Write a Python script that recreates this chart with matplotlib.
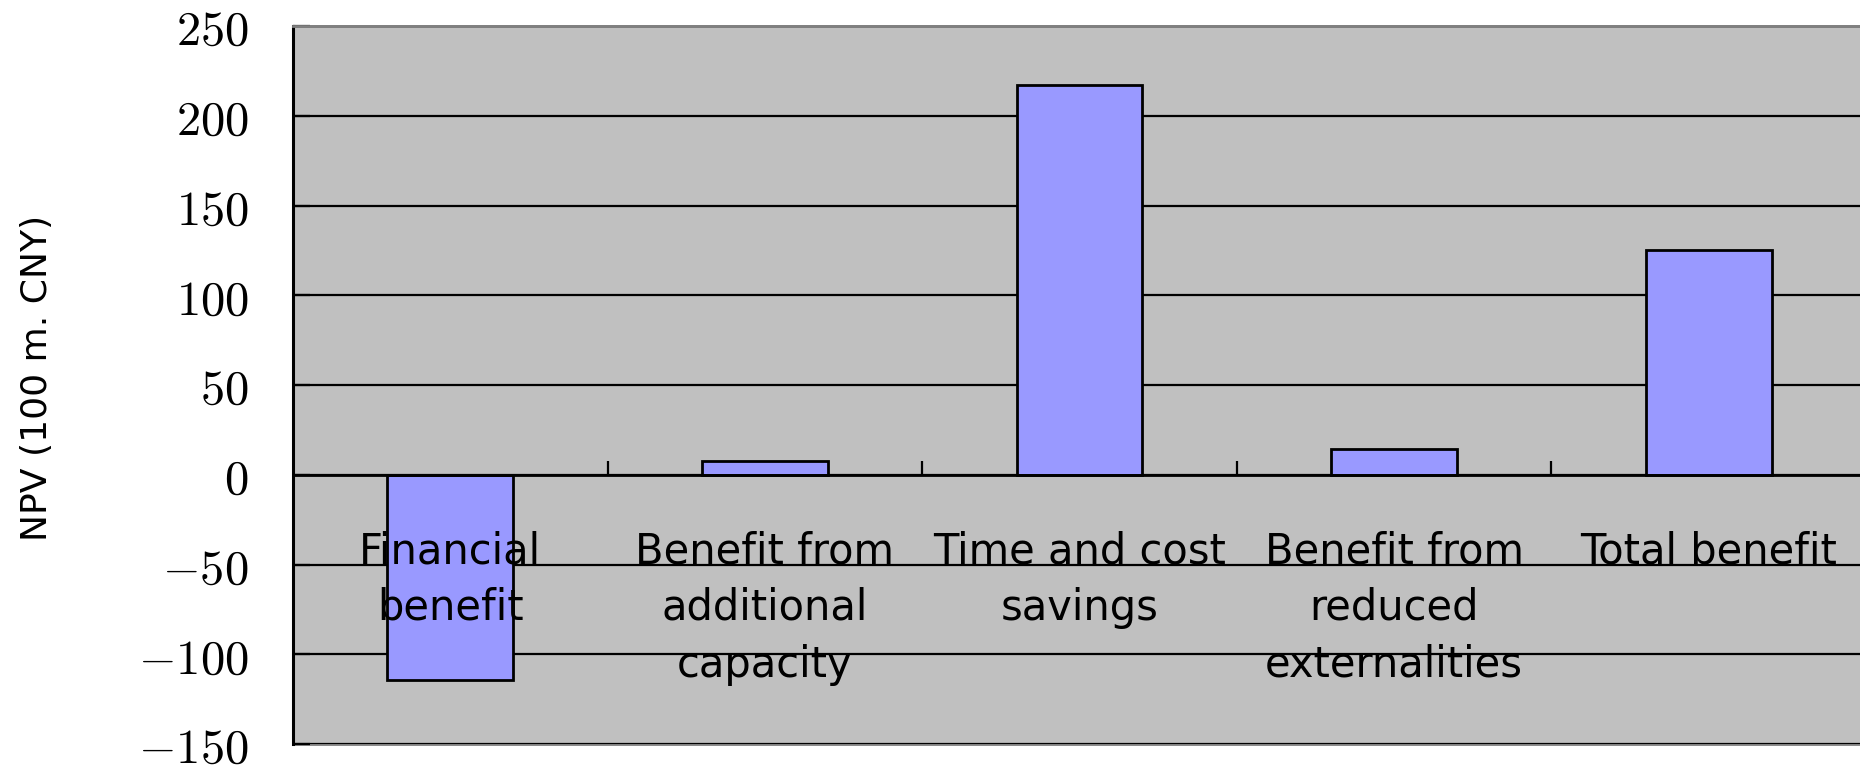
import matplotlib
matplotlib.use("Agg")
import matplotlib.pyplot as plt
from matplotlib.ticker import FixedLocator

# NPV by benefit component (100 million CNY)
categories = [
    "Financial\nbenefit",
    "Benefit from\nadditional\ncapacity",
    "Time and cost\nsavings",
    "Benefit from\nreduced\nexternalities",
    "Total benefit",
]
npv = [-114.5, 8.0, 217.0, 14.5, 125.5]
y_ticks = [-150, -100, -50, 0, 50, 100, 150, 200, 250]

plt.rcParams["mathtext.fontset"] = "cm"

fig = plt.figure(figsize=(18.6, 7.68), dpi=100)
ax = fig.add_axes([0.1575, 0.031, 0.8457, 0.935])

ax.set_facecolor("#C0C0C0")
ax.patch.set_edgecolor("#808080")
ax.patch.set_linewidth(2.0)

x = list(range(len(categories)))
ax.bar(x, npv, width=0.4, color="#9999FF", edgecolor="black",
       linewidth=2.0, zorder=3)

ax.set_xlim(-0.5, len(categories) - 0.5)
ax.set_ylim(y_ticks[0], y_ticks[-1])

# horizontal grid behind the bars
ax.set_yticks(y_ticks)
ax.set_yticklabels([r"$%d$" % v for v in y_ticks])
ax.yaxis.grid(True, color="black", linewidth=1.6)
ax.set_axisbelow(True)
ax.tick_params(axis="y", direction="in", length=12, width=1.6,
               labelsize=35, pad=32, colors="black")

# category axis sits at zero, its labels drawn over the bars
ax.spines["bottom"].set_position(("data", 0))
ax.spines["bottom"].set_linewidth(2.0)
ax.spines["bottom"].set_zorder(4)
ax.spines["left"].set_linewidth(2.2)
ax.spines["top"].set_color("#808080")
ax.spines["top"].set_linewidth(2.0)
ax.spines["right"].set_visible(False)

ax.set_xticks(x)
ax.set_xticklabels(categories, fontsize=30, family="DejaVu Sans",
                   linespacing=1.44)
ax.xaxis.set_minor_locator(FixedLocator([i + 0.5 for i in x[:-1]]))
ax.tick_params(axis="x", which="major", length=0, pad=40)
ax.tick_params(axis="x", which="minor", direction="in", length=10,
               width=1.6)
ax.xaxis.set_zorder(5)

ax.set_ylabel("NPV (100 m. CNY)", fontsize=26, family="DejaVu Sans")
ax.yaxis.set_label_coords(-0.152, 0.51)

fig.savefig("out.png", dpi=100)
